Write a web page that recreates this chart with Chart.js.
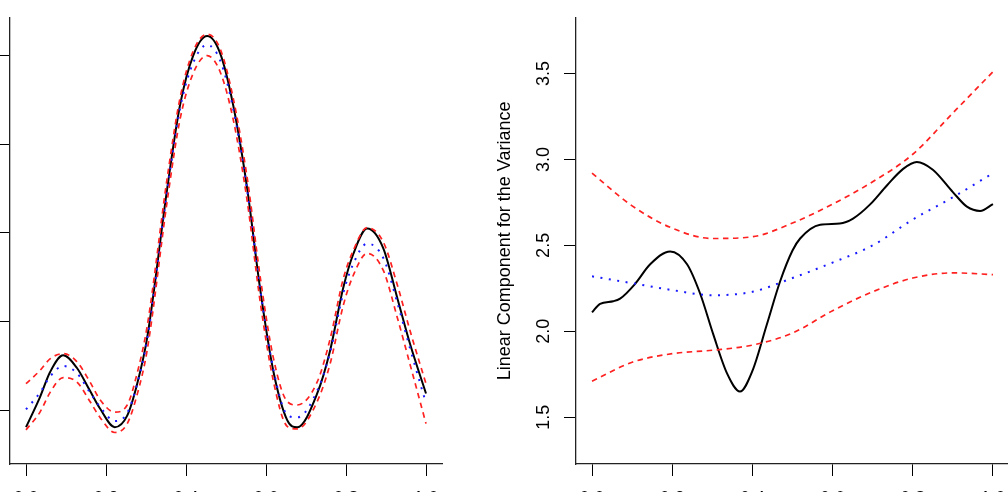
<!DOCTYPE html>
<html>
<head>
<meta charset="utf-8">
<script src="https://cdn.jsdelivr.net/npm/chart.js@4/dist/chart.umd.min.js"></script>
<style>
  html, body { margin: 0; padding: 0; background: #fff; overflow: hidden; width: 1008px; height: 492px; }
  .panel { position: absolute; top: 0; height: 522px; }
  #leftBox { left: -60px; width: 564px; }
  #rightBox { left: 480px; width: 560px; }
</style>
</head>
<body>
<div id="leftBox" class="panel"><canvas id="leftChart"></canvas></div>
<div id="rightBox" class="panel"><canvas id="rightChart"></canvas></div>
<script>
// tick labels
const xTicks = [0, 0.2, 0.4, 0.6, 0.8, 1.0];
const leftYTicks = [0, 1, 2, 3, 4];
const rightYTicks = [1.5, 2.0, 2.5, 3.0, 3.5];
const rightYTitle = 'Linear Component for the Variance';

// left panel: mean function, smooth fit and band
const leftX = [0, 0.035, 0.06, 0.093, 0.127, 0.16, 0.185, 0.222, 0.253, 0.278, 0.303, 0.353, 0.385, 0.418, 0.453,
  0.485, 0.518, 0.553, 0.585, 0.618, 0.653, 0.678, 0.728, 0.76, 0.793, 0.818, 0.853, 0.893, 0.928, 0.96, 1.0];
const leftFit = [-0.19, 0.15, 0.43, 0.62, 0.48, 0.22, 0.02, -0.19, -0.06, 0.30, 0.82, 2.50, 3.44, 4.00, 4.22,
  4.03, 3.44, 2.50, 1.38, 0.45, -0.11, -0.19, 0.19, 0.67, 1.38, 1.76, 2.05, 1.83, 1.27, 0.75, 0.19];
const leftMean = [0.01, 0.20, 0.38, 0.50, 0.42, 0.20, 0.04, -0.12, -0.03, 0.30, 0.80, 2.48, 3.40, 3.92, 4.12,
  3.95, 3.40, 2.48, 1.38, 0.47, -0.05, -0.08, 0.22, 0.65, 1.32, 1.65, 1.88, 1.72, 1.22, 0.70, 0.08];
const leftUpper = [0.30, 0.45, 0.58, 0.64, 0.55, 0.32, 0.12, -0.02, 0.06, 0.42, 0.95, 2.62, 3.52, 4.05, 4.24,
  4.08, 3.52, 2.62, 1.52, 0.60, 0.10, 0.06, 0.32, 0.80, 1.48, 1.80, 2.06, 1.90, 1.42, 0.90, 0.30];
const leftLower = [-0.22, -0.02, 0.20, 0.37, 0.32, 0.10, -0.08, -0.25, -0.15, 0.18, 0.68, 2.36, 3.28, 3.80, 4.00,
  3.82, 3.28, 2.36, 1.24, 0.34, -0.18, -0.21, 0.10, 0.52, 1.18, 1.52, 1.77, 1.58, 1.05, 0.52, -0.15];

// right panel: variance component
const rightFitX = [0, 0.02, 0.053, 0.07, 0.107, 0.145, 0.195, 0.237, 0.27, 0.302, 0.337, 0.369, 0.40, 0.436,
  0.469, 0.50, 0.519, 0.569, 0.618, 0.651, 0.693, 0.736, 0.776, 0.81, 0.85, 0.90, 0.935, 0.968, 1.0];
const rightFit = [2.11, 2.16, 2.175, 2.19, 2.275, 2.39, 2.465, 2.39, 2.217, 1.985, 1.754, 1.65, 1.77, 2.04,
  2.29, 2.47, 2.54, 2.62, 2.627, 2.656, 2.737, 2.85, 2.945, 2.985, 2.94, 2.81, 2.725, 2.70, 2.74];
const rightBandX = [0, 0.1, 0.2, 0.3, 0.4, 0.5, 0.6, 0.7, 0.8, 0.9, 1.0];
const rightMean = [2.32, 2.28, 2.24, 2.21, 2.23, 2.31, 2.40, 2.50, 2.65, 2.78, 2.92];
const rightUpper = [2.92, 2.73, 2.60, 2.54, 2.55, 2.63, 2.74, 2.87, 3.03, 3.27, 3.51];
const rightLower = [1.71, 1.82, 1.87, 1.89, 1.92, 1.99, 2.12, 2.23, 2.31, 2.34, 2.33];

const FONT = { family: '"Liberation Sans", Arial, Helvetica, sans-serif', size: 18 };

const toPoints = (xs, ys) => xs.map((x, i) => ({ x: x, y: ys[i] }));

// black fit, blue dotted mean, red dashed band
function buildDatasets(fitX, fit, bandX, mean, upper, lower) {
  const base = { pointRadius: 0, fill: false, cubicInterpolationMode: 'monotone' };
  return [
    { ...base, data: toPoints(bandX, upper), borderColor: '#ff2020', borderWidth: 1.7, borderDash: [5.5, 4.5] },
    { ...base, data: toPoints(bandX, lower), borderColor: '#ff2020', borderWidth: 1.7, borderDash: [5.5, 4.5] },
    { ...base, data: toPoints(bandX, mean), borderColor: '#1a1aff', borderWidth: 2, borderDash: [2, 6.5] },
    { ...base, data: toPoints(fitX, fit), borderColor: '#000000', borderWidth: 2 }
  ];
}

function buildOptions(cfg) {
  return {
    responsive: true,
    maintainAspectRatio: false,
    animation: false,
    layout: { padding: { top: 15, right: cfg.padRight, left: 0, bottom: 0 } },
    plugins: { legend: { display: false }, tooltip: { enabled: false } },
    scales: {
      x: {
        type: 'linear', min: -0.04, max: 1.04,
        afterFit: s => { s.height = 58; },
        afterBuildTicks: s => { s.ticks = xTicks.map(v => ({ value: v })); },
        grid: { drawOnChartArea: false, drawTicks: true, tickLength: 12, color: '#000', lineWidth: 1 },
        border: { display: true, color: '#222', width: 1.3 },
        ticks: { color: '#000', font: FONT, padding: 12, callback: v => v.toFixed(1) }
      },
      y: {
        type: 'linear', min: cfg.yMin, max: cfg.yMax,
        afterFit: s => { s.width = cfg.yWidth; },
        afterBuildTicks: s => { s.ticks = cfg.yTicks.map(v => ({ value: v })); },
        grid: { drawOnChartArea: false, drawTicks: true, tickLength: 12, color: '#000', lineWidth: 1 },
        border: { display: true, color: '#222', width: 1.3 },
        ticks: {
          color: '#000', font: FONT, padding: 7, minRotation: 90, maxRotation: 90,
          crossAlign: 'center', callback: cfg.yFormat
        },
        title: {
          display: !!cfg.yTitle, text: cfg.yTitle || '', color: '#000', font: FONT,
          padding: { top: 14, bottom: 0 }
        }
      }
    }
  };
}

new Chart(document.getElementById('leftChart'), {
  type: 'line',
  data: { datasets: buildDatasets(leftX, leftFit, leftX, leftMean, leftUpper, leftLower) },
  options: buildOptions({
    padRight: 62, yWidth: 70, yMin: -0.605, yMax: 4.426, yTicks: leftYTicks,
    yFormat: v => String(v), yTitle: null
  })
});

new Chart(document.getElementById('rightChart'), {
  type: 'line',
  data: { datasets: buildDatasets(rightFitX, rightFit, rightBandX, rightMean, rightUpper, rightLower) },
  options: buildOptions({
    padRight: 31, yWidth: 96, yMin: 1.2283, yMax: 3.8237, yTicks: rightYTicks,
    yFormat: v => v.toFixed(1), yTitle: rightYTitle
  })
});
</script>
</body>
</html>
